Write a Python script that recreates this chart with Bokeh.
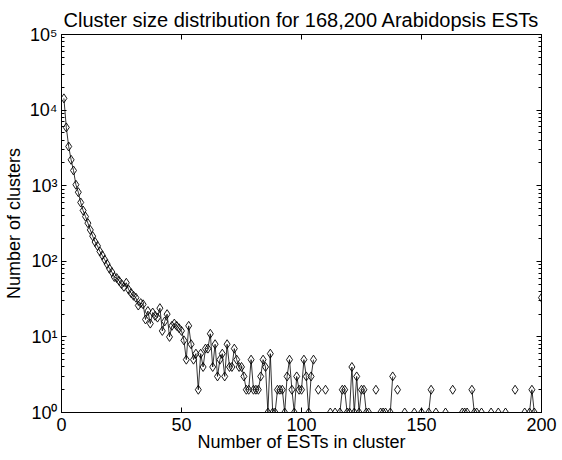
import math
from bokeh.plotting import figure
from bokeh.models import (LinearAxis, LogAxis, FixedTicker, CustomJSTickFormatter,
                          ColumnDataSource, Range1d)
from bokeh.embed import file_html
from bokeh.resources import INLINE

# ---- data (cluster size -> number of clusters; 0 = none) ----
cluster_size = list(range(1, 201))
num_clusters = [
    14300, 5900, 3300, 2200, 1590, 1030, 820, 600, 470, 390,      # 1-10
    320, 260, 215, 180, 160, 135, 120, 105, 92, 80,               # 11-20
    72, 62, 60, 55, 50, 46, 52, 42, 38, 35,                       # 21-30
    33, 26, 28, 27, 17, 22, 15, 21, 19, 18,                       # 31-40
    24, 12, 16, 20, 10, 14, 15, 14, 13, 12,                       # 41-50
    9, 5, 14, 8, 5, 6, 2, 6, 4, 7,                                # 51-60
    7, 11, 4, 8, 3, 5, 6, 3, 8, 4,                                # 61-70
    4, 7, 5, 4, 4, 3, 2, 2, 5, 2,                                 # 71-80
    2, 2, 3, 5, 4, 1, 6, 1, 1, 2,                                 # 81-90
    2, 2, 1, 3, 5, 2, 1, 3, 2, 2,                                 # 91-100
    5, 3, 1, 3, 5, 0, 2, 0, 0, 2,                                 # 101-110
    0, 1, 0, 1, 0, 1, 2, 2, 1, 1,                                 # 111-120
    4, 1, 3, 1, 2, 2, 1, 1, 0, 0,                                 # 121-130
    2, 0, 1, 1, 1, 0, 1, 3, 0, 2,                                 # 131-140
    0, 0, 1, 0, 0, 0, 1, 0, 0, 1,                                 # 141-150
    0, 0, 1, 2, 0, 1, 0, 0, 0, 1,                                 # 151-160
    0, 0, 2, 0, 0, 0, 1, 1, 1, 0,                                 # 161-170
    2, 1, 1, 0, 1, 0, 0, 0, 1, 0,                                 # 171-180
    0, 1, 0, 0, 1, 0, 0, 0, 2, 0,                                 # 181-190
    0, 0, 1, 0, 1, 2, 1, 0, 0, 33,                                # 191-200
]
x_ticks = [0, 50, 100, 150, 200]
y_ticks = [1, 10, 100, 1000, 10000, 100000]
y_tick_labels = ["10\u2070", "10\u00b9", "10\u00b2", "10\u00b3", "10\u2074", "10\u2075"]

title_text = "Cluster size distribution for 168,200 Arabidopsis ESTs"
x_label = "Number of ESTs in cluster"
y_label = "Number of clusters"

FONT = "Liberation Sans"

y_vals = [c if c > 0 else float("nan") for c in num_clusters]
src = ColumnDataSource(data=dict(x=cluster_size, y=y_vals))

p = figure(
    frame_width=480, frame_height=378,
    x_range=Range1d(0, 200), y_range=Range1d(1, 100000),
    y_axis_type="log",
    output_backend="svg", toolbar_location=None,
    min_border_left=57, min_border_right=17, min_border_top=34, min_border_bottom=38,
)
p.title.text = title_text
p.title.text_font = FONT
p.title.text_font_size = "20px"
p.title.text_font_style = "normal"
p.title.text_color = "black"
p.title.align = "center"
p.title.standoff = 8

p.xgrid.visible = False
p.ygrid.visible = False
p.outline_line_color = "black"
p.outline_line_width = 1
p.background_fill_color = "white"
p.border_fill_color = "white"

minor = [m * 10 ** k for k in range(5) for m in range(2, 10)]
yticker = FixedTicker(ticks=y_ticks, minor_ticks=minor)
xticker = FixedTicker(ticks=x_ticks, minor_ticks=[])
yfmt = CustomJSTickFormatter(args=dict(lab=y_tick_labels, tv=y_ticks), code="""
const i = tv.findIndex(t => Math.abs(Math.log10(t) - Math.log10(tick)) < 1e-6);
return i >= 0 ? lab[i] : '';
""")
blank = CustomJSTickFormatter(code="return '';")

def style(ax):
    ax.axis_line_color = "black"
    ax.axis_line_width = 1
    ax.major_tick_in = 5
    ax.major_tick_out = 0
    ax.minor_tick_in = 3
    ax.minor_tick_out = 0
    ax.major_tick_line_color = "black"
    ax.minor_tick_line_color = "black"
    ax.major_label_text_font = FONT
    ax.major_label_text_color = "black"
    ax.axis_label_text_font = FONT
    ax.axis_label_text_font_style = "normal"
    ax.axis_label_text_color = "black"

xa = p.xaxis[0]
xa.ticker = xticker
style(xa)
xa.major_label_text_font_size = "18px"
xa.major_label_standoff = 5
xa.axis_label = x_label
xa.axis_label_text_font_size = "18px"
xa.axis_label_standoff = -2

ya = p.yaxis[0]
ya.ticker = yticker
ya.formatter = yfmt
style(ya)
ya.major_label_text_font_size = "18px"
ya.major_label_standoff = 4
ya.axis_label = y_label
ya.axis_label_text_font_size = "18px"
ya.axis_label_standoff = 3

top = LinearAxis(ticker=xticker, formatter=blank, major_label_standoff=0,
                 major_label_text_font_size="1px")
style(top)
p.add_layout(top, "above")
right = LogAxis(ticker=yticker, formatter=blank, major_label_standoff=0,
                major_label_text_font_size="1px")
style(right)
p.add_layout(right, "right")

p.line("x", "y", source=src, line_color="black", line_width=0.8)
p.scatter("x", "y", source=src, marker="diamond", size=9, fill_color=None,
          line_color="black", line_width=0.9)

open("out.html", "w").write(file_html(p, INLINE))
